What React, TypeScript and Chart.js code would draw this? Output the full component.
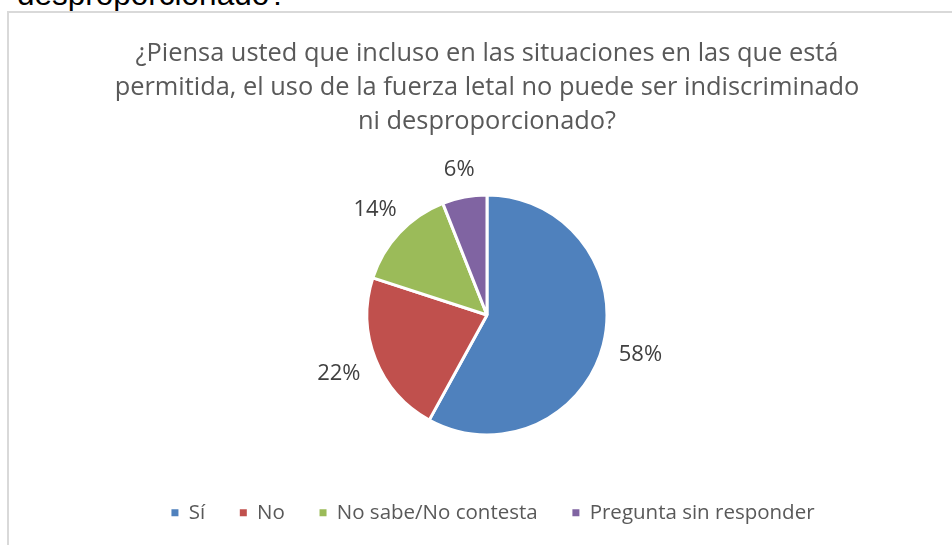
import React, { useEffect, useRef } from "react";
import { Chart, registerables } from "chart.js";

Chart.register(...registerables);

const categories = ["Sí", "No", "No sabe/No contesta", "Pregunta sin responder"];
const values = [58, 22, 14, 6];
const colors = ["#4f81bd", "#c0504d", "#9bbb59", "#8064a2"];
const titleLines = [
  "¿Piensa usted que incluso en las situaciones en las que está",
  "permitida, el uso de la fuerza letal no puede ser indiscriminado",
  "ni desproporcionado?",
];

const FONT = "'Open Sans', 'Noto Sans', sans-serif";

const outsideLabels = {
  id: "outsideLabels",
  afterDatasetsDraw(chart: any) {
    const ctx = chart.ctx;
    const meta = chart.getDatasetMeta(0);
    const data = chart.data.datasets[0].data as number[];
    const total = data.reduce((a, b) => a + b, 0);
    ctx.save();
    ctx.font = `22px ${FONT}`;
    ctx.fillStyle = "#404040";
    ctx.textAlign = "center";
    ctx.textBaseline = "middle";
    meta.data.forEach((arc: any, i: number) => {
      const p = arc.getProps(["x", "y", "startAngle", "endAngle", "outerRadius"], true);
      const mid = (p.startAngle + p.endAngle) / 2;
      const text = Math.round((data[i] / total) * 100) + "%";
      const w = ctx.measureText(text).width;
      const h = 24;
      const c = Math.cos(mid);
      const s = Math.sin(mid);
      const ex = Math.abs(c) > 1e-6 ? w / 2 / Math.abs(c) : Infinity;
      const ey = Math.abs(s) > 1e-6 ? h / 2 / Math.abs(s) : Infinity;
      const d = p.outerRadius + 16 + Math.min(ex, ey);
      ctx.fillText(text, p.x + c * d, p.y + s * d);
    });
    ctx.restore();
  },
};

const legendShift = {
  id: "legendShift",
  afterLayout(chart: any) {
    const lg = chart.legend;
    if (lg) {
      lg.left += 6;
      lg.right += 6;
    }
  },
};

export default function App() {
  const ref = useRef<HTMLCanvasElement>(null);
  useEffect(() => {
    if (!ref.current) return;
    const chart = new Chart(ref.current, {
      type: "pie",
      data: {
        labels: categories,
        datasets: [
          {
            data: values,
            backgroundColor: colors,
            borderColor: "#ffffff",
            borderWidth: 3,
            radius: 120,
          } as any,
        ],
      },
      options: {
        responsive: false,
        animation: false,
        layout: { padding: { top: 0, bottom: 12, left: 0, right: 0 } },
        plugins: {
          title: {
            display: true,
            text: titleLines,
            color: "#595959",
            font: { family: FONT, size: 25.4, weight: "normal", lineHeight: 1.34 },
            padding: { top: 24, bottom: 23 },
          },
          legend: {
            position: "bottom",
            labels: {
              boxWidth: 7,
              boxHeight: 7,
              padding: 34.7,
              color: "#595959",
              font: { family: FONT, size: 20.5 },
              generateLabels: (ch: any) => {
                const base = (Chart as any).overrides.pie.plugins.legend.labels.generateLabels(ch);
                return base.map((l: any) => ({ ...l, lineWidth: 0, strokeStyle: l.fillStyle }));
              },
            },
          },
          tooltip: { enabled: false },
        },
      },
      plugins: [outsideLabels, legendShift],
    });
    return () => chart.destroy();
  }, []);

  return (
    <div
      style={{
        position: "fixed",
        left: 0,
        top: 0,
        width: 952,
        height: 545,
        overflow: "hidden",
        background: "#ffffff",
      }}
    >
      <div
        style={{
          position: "absolute",
          left: 17,
          top: -23,
          fontFamily: "'Liberation Sans', Arial, sans-serif",
          fontSize: 31.5,
          lineHeight: "34px",
          color: "#000000",
          whiteSpace: "nowrap",
        }}
      >
        desproporcionado?
      </div>
      <div
        style={{
          position: "absolute",
          left: 7,
          top: 11,
          width: 980,
          height: 560,
          borderLeft: "2px solid #d9d9d9",
          borderTop: "2px solid #d9d9d9",
          background: "#ffffff",
        }}
      />
      <canvas
        ref={ref}
        width={956}
        height={532}
        style={{ position: "absolute", left: 9, top: 13, width: 956, height: 532 }}
      />
    </div>
  );
}
